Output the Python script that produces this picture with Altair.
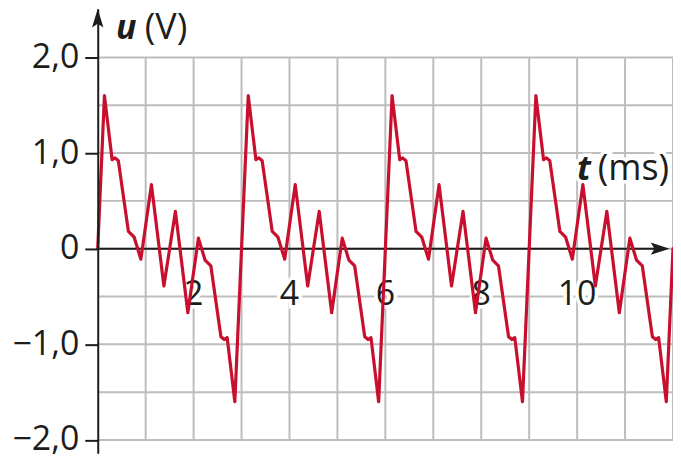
import altair as alt
import pandas as pd

# ---- data ----
t_ms = [0.00, 0.14, 0.30, 0.36, 0.43, 0.64, 0.76, 0.90, 1.12, 1.38, 1.62, 1.88, 2.10, 2.24, 2.36, 2.57, 2.64, 2.70, 2.86,
        3.00, 3.14, 3.30, 3.36, 3.43, 3.64, 3.76, 3.90, 4.12, 4.38, 4.62, 4.88, 5.10, 5.24, 5.36, 5.57, 5.64, 5.70, 5.86,
        6.00, 6.14, 6.30, 6.36, 6.43, 6.64, 6.76, 6.90, 7.12, 7.38, 7.62, 7.88, 8.10, 8.24, 8.36, 8.57, 8.64, 8.70, 8.86,
        9.00, 9.14, 9.30, 9.36, 9.43, 9.64, 9.76, 9.90, 10.12, 10.38, 10.62, 10.88, 11.10, 11.24, 11.36, 11.57, 11.64, 11.70, 11.86,
        12.00]
u_V = [0.00, 1.60, 0.93, 0.95, 0.92, 0.18, 0.12, -0.11, 0.67, -0.39, 0.39, -0.67, 0.11, -0.12, -0.18, -0.92, -0.95, -0.93, -1.60,
       0.00, 1.60, 0.93, 0.95, 0.92, 0.18, 0.12, -0.11, 0.67, -0.39, 0.39, -0.67, 0.11, -0.12, -0.18, -0.92, -0.95, -0.93, -1.60,
       0.00, 1.60, 0.93, 0.95, 0.92, 0.18, 0.12, -0.11, 0.67, -0.39, 0.39, -0.67, 0.11, -0.12, -0.18, -0.92, -0.95, -0.93, -1.60,
       0.00, 1.60, 0.93, 0.95, 0.92, 0.18, 0.12, -0.11, 0.67, -0.39, 0.39, -0.67, 0.11, -0.12, -0.18, -0.92, -0.95, -0.93, -1.60,
       0.00]

grid_t = [1, 2, 3, 4, 5, 6, 7, 8, 9, 10, 11, 12]
grid_u = [-2.0, -1.5, -1.0, -0.5, 0.0, 0.5, 1.0, 1.5, 2.0]
x_tick_values = [2, 4, 6, 8, 10]
x_tick_labels = ["2", "4", "6", "8", "10"]
y_tick_values = [-2, -1, 0, 1, 2]

# axis titles (italic symbol + unit), positions in data units
title_sym = ["u", "t"]
title_unit = ["(V)", "(ms)"]
title_sym_t = [0.38, 10.00]
title_unit_t = [0.98, 10.43]
title_u = [2.197, 0.716]

T_MIN, T_MAX = 0, 12
U_MIN, U_MAX = -2.14, 2.51
T_ARROW = 11.93
U_GRID_MIN, U_GRID_MAX = -2.0, 2.0
X_LABEL_U = -0.587

FONT = "Open Sans"
RED = "#c8102e"
GRID = "#bdbdbd"
INK = "#1d1d1b"

xs = alt.Scale(domain=[T_MIN, T_MAX], nice=False, zero=False)
ys = alt.Scale(domain=[U_MIN, U_MAX], nice=False, zero=False)
yaxis = alt.Axis(values=y_tick_values, title=None, grid=False, tickSize=13, tickWidth=2,
                 tickColor=INK, domainColor=INK, domainWidth=2, labelFont=FONT, labelFontSize=34,
                 labelColor=INK, labelPadding=6, zindex=1,
                 labelExpr="datum.value == 0 ? '0' : replace(format(datum.value, '.1f'), '.', ',')")


def X(f):
    return alt.X(f, type="quantitative", scale=xs, axis=None)


def Y(f):
    return alt.Y(f, type="quantitative", scale=ys, axis=yaxis)


vgrid_df = pd.DataFrame({"t": grid_t, "u": [U_GRID_MIN] * len(grid_t), "u2": [U_GRID_MAX] * len(grid_t)})
hgrid_df = pd.DataFrame({"u": grid_u, "t": [T_MIN] * len(grid_u), "t2": [T_MAX] * len(grid_u)})
zero_df = pd.DataFrame({"t": [T_MIN], "t2": [T_ARROW - 0.2], "u": [0.0]})
xlab_df = pd.DataFrame({"t": x_tick_values, "u": [X_LABEL_U] * len(x_tick_values), "label": x_tick_labels})
sym_df = pd.DataFrame({"t": title_sym_t, "u": title_u, "label": title_sym})
unit_df = pd.DataFrame({"t": title_unit_t, "u": title_u, "label": title_unit})
wave_df = pd.DataFrame({"t": t_ms, "u": u_V})
yarrow_df = pd.DataFrame({"t": [T_MIN], "u": [U_MAX]})
xarrow_df = pd.DataFrame({"t": [T_ARROW], "u": [0.0]})

vgrid = alt.Chart(vgrid_df).mark_rule(color=GRID, strokeWidth=2).encode(x=X("t"), y=Y("u"), y2="u2")
hgrid = alt.Chart(hgrid_df).mark_rule(color=GRID, strokeWidth=2).encode(x=X("t"), x2="t2", y=Y("u"))
zero = alt.Chart(zero_df).mark_rule(color=INK, strokeWidth=2).encode(x=X("t"), x2="t2", y=Y("u"))

halo_kw = dict(font=FONT, baseline="alphabetic", fill="white", stroke="white", strokeWidth=7)
xlab_halo = alt.Chart(xlab_df).mark_text(align="center", fontSize=34, **halo_kw).encode(
    x=X("t"), y=Y("u"), text="label")
xlab = alt.Chart(xlab_df).mark_text(align="center", font=FONT, fontSize=34, baseline="alphabetic", color=INK).encode(
    x=X("t"), y=Y("u"), text="label")

sym_halo = alt.Chart(sym_df).mark_text(align="left", fontSize=34, fontStyle="italic", fontWeight="bold",
                                       **halo_kw).encode(x=X("t"), y=Y("u"), text="label")
unit_halo = alt.Chart(unit_df).mark_text(align="left", fontSize=36, **halo_kw).encode(
    x=X("t"), y=Y("u"), text="label")
sym = alt.Chart(sym_df).mark_text(align="left", font=FONT, fontSize=34, fontStyle="italic", fontWeight="bold",
                                  baseline="alphabetic", color=INK).encode(x=X("t"), y=Y("u"), text="label")
unit = alt.Chart(unit_df).mark_text(align="left", font=FONT, fontSize=36, baseline="alphabetic", color=INK).encode(
    x=X("t"), y=Y("u"), text="label")

wave = alt.Chart(wave_df).mark_line(color=RED, strokeWidth=3.2, strokeJoin="round", strokeCap="round").encode(
    x=X("t"), y=Y("u"))

up_arrow = "M0,0 L0.6,2 L0,1.6 L-0.6,2 Z"
right_arrow = "M0,0 L-2,-0.65 L-1.6,0 L-2,0.65 Z"
yarrow = alt.Chart(yarrow_df).mark_point(shape=up_arrow, size=361, filled=True, fill=INK, strokeWidth=0,
                                         opacity=1).encode(x=X("t"), y=Y("u"))
xarrow = alt.Chart(xarrow_df).mark_point(shape=right_arrow, size=361, filled=True, fill=INK, strokeWidth=0,
                                         opacity=1).encode(x=X("t"), y=Y("u"))

chart = alt.layer(vgrid, hgrid, zero, xlab_halo, xlab, sym_halo, unit_halo, sym, unit, xarrow, wave, yarrow).properties(
    width=577, height=446, autosize=alt.AutoSizeParams(type="none"),
    padding={"left": 90, "top": 0, "right": 0, "bottom": 0},
    background="white",
).configure_view(stroke=None)

chart.save("out.html", embed_options={"renderer": "svg", "actions": False})
